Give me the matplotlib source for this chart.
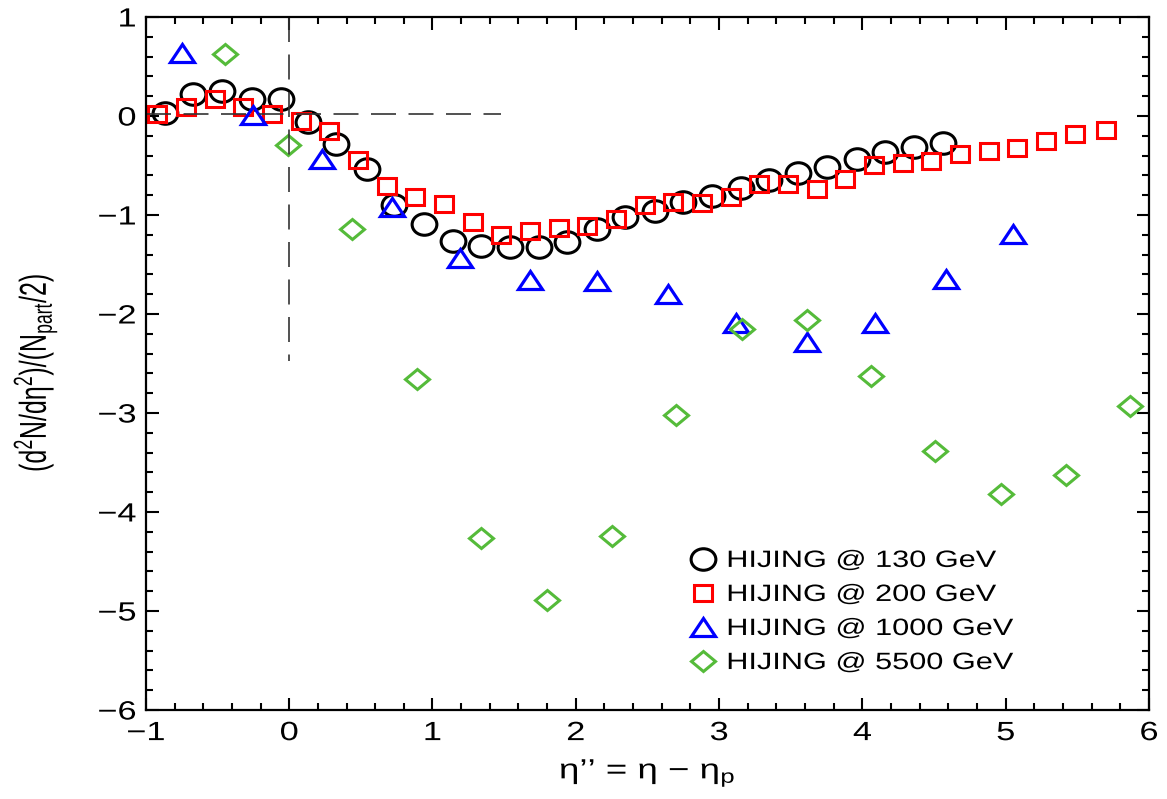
import numpy as np
import matplotlib
matplotlib.use("Agg")
import matplotlib.pyplot as plt
from matplotlib.markers import MarkerStyle
from matplotlib.transforms import Affine2D
from matplotlib.patheffects import AbstractPathEffect

plt.rcParams['font.family'] = ['Liberation Sans', 'DejaVu Sans']
plt.rcParams['mathtext.fontset'] = 'custom'
plt.rcParams['mathtext.rm'] = 'Liberation Sans'
plt.rcParams['mathtext.it'] = 'Liberation Sans:italic'

# HIJING @ 130 GeV
x_130 = [-0.87, -0.67, -0.47, -0.26, -0.06, 0.13, 0.33, 0.54, 0.73, 0.94,
         1.14, 1.34, 1.54, 1.74, 1.94, 2.15, 2.34, 2.55, 2.75, 2.95,
         3.15, 3.35, 3.55, 3.75, 3.96, 4.16, 4.36, 4.56]
y_130 = [0.03, 0.22, 0.25, 0.17, 0.17, -0.06, -0.28, -0.54, -0.90, -1.09,
         -1.26, -1.31, -1.32, -1.32, -1.27, -1.14, -1.02, -0.96, -0.87, -0.81,
         -0.73, -0.65, -0.58, -0.51, -0.43, -0.36, -0.31, -0.27]

# HIJING @ 200 GeV
x_200 = [-0.92, -0.72, -0.52, -0.32, -0.12, 0.08, 0.28, 0.48, 0.68, 0.88,
         1.08, 1.28, 1.48, 1.68, 1.88, 2.08, 2.28, 2.48, 2.68, 2.88,
         3.08, 3.28, 3.48, 3.68, 3.88, 4.08, 4.28, 4.48, 4.68, 4.88,
         5.08, 5.28, 5.48, 5.70]
y_200 = [0.02, 0.09, 0.17, 0.09, 0.02, -0.05, -0.15, -0.44, -0.71, -0.82,
         -0.89, -1.07, -1.20, -1.16, -1.13, -1.11, -1.04, -0.90, -0.87, -0.88,
         -0.82, -0.69, -0.69, -0.74, -0.64, -0.49, -0.47, -0.45, -0.38, -0.35,
         -0.32, -0.25, -0.18, -0.14]

# HIJING @ 1000 GeV
x_1000 = [-0.75, -0.25, 0.23, 0.72, 1.19, 1.68, 2.15, 2.64, 3.12, 3.61, 4.09, 4.58, 5.05]
y_1000 = [0.64, 0.01, -0.43, -0.92, -1.43, -1.66, -1.67, -1.80, -2.09, -2.28, -2.09, -1.65, -1.19]

# HIJING @ 5500 GeV
x_5500 = [-0.45, -0.01, 0.44, 0.89, 1.34, 1.80, 2.25, 2.70, 3.16, 3.61, 4.06, 4.51, 4.97, 5.42, 5.87]
y_5500 = [0.63, -0.29, -1.14, -2.66, -4.26, -4.89, -4.24, -3.02, -2.15, -2.06, -2.63, -3.38, -3.82, -3.63, -2.93]

labels = ['HIJING @ 130 GeV', 'HIJING @ 200 GeV', 'HIJING @ 1000 GeV', 'HIJING @ 5500 GeV']


class Stretch(AbstractPathEffect):
    """Scale glyph outlines in the text's own frame (ax = anchor fraction along x)."""

    def __init__(self, sx=1.0, sy=1.0, ax=0.5):
        super().__init__()
        self.sx, self.sy, self.ax = sx, sy, ax

    def draw_path(self, renderer, gc, tpath, affine, rgbFace=None):
        ext = tpath.get_extents()
        cx = ext.x0 + self.ax * (ext.x1 - ext.x0)
        cy = 0.5 * (ext.y0 + ext.y1)
        t = Affine2D().translate(-cx, -cy).scale(self.sx, self.sy).translate(cx, cy)
        renderer.draw_path(gc, tpath, t + affine, rgbFace)


def wide(m, sx):
    return MarkerStyle(m, transform=Affine2D().scale(sx, 1.0))


fig = plt.figure(figsize=(11.67, 7.99), dpi=100)
ax = fig.add_axes([0.125, 0.1114, 0.8596, 0.8673])

ax.plot(x_130, y_130, ls='none', marker=wide('o', 1.15), ms=15.5, mfc='none',
        mec='black', mew=2.2, label=labels[0])
ax.plot(x_200, y_200, ls='none', marker=wide('s', 1.2), ms=11, mfc='none',
        mec='#ff0000', mew=2.2, label=labels[1])
ax.plot(x_1000, y_1000, ls='none', marker=wide('^', 1.3), ms=13, mfc='none',
        mec='#0000ff', mew=2.3, label=labels[2])
ax.plot(x_5500, y_5500, ls='none', marker=wide('D', 1.25), ms=9.7, mfc='none',
        mec='#55bb3a', mew=2.2, label=labels[3])

# dashed guide lines through the origin
ax.plot([0, 0], [1, -2.47], ls=(0, (15, 7.5)), color='#333333', lw=1.2)
ax.plot([-1, 1.48], [0.02, 0.02], ls=(0, (15, 7.5)), color='#333333', lw=1.2)

ax.set_xlim(-1, 6)
ax.set_ylim(-6, 1)
ax.set_xticks(range(-1, 7))
ax.set_yticks(range(-6, 2))
ax.set_xticklabels(['\u22121', '0', '1', '2', '3', '4', '5', '6'])
ax.set_yticklabels(['\u22126', '\u22125', '\u22124', '\u22123', '\u22122', '\u22121', '0', '1'])
ax.xaxis.set_minor_locator(matplotlib.ticker.MultipleLocator(0.2))
ax.yaxis.set_minor_locator(matplotlib.ticker.MultipleLocator(0.2))
ax.tick_params(which='both', direction='in', top=True, right=True, width=1.5,
               labelsize=19)
ax.tick_params(axis='x', pad=8)
ax.tick_params(axis='y', pad=7)
ax.tick_params(which='major', length=9)
ax.tick_params(which='minor', length=5)
for s in ax.spines.values():
    s.set_linewidth(1.6)

for t in ax.xaxis.get_major_ticks():
    t.label1.set_path_effects([Stretch(sx=1.3, ax=0.5)])
for t in ax.yaxis.get_major_ticks():
    t.label1.set_path_effects([Stretch(sx=1.3, ax=1.0)])

xl = ax.set_xlabel('\u03b7\u2019\u2019 = \u03b7 \u2212 \u03b7$_{\\mathregular{p}}$', fontsize=20, labelpad=9)
xl.set_path_effects([Stretch(sx=1.32)])
yl = ax.set_ylabel('(d$^{\\mathregular{2}}$N/d\u03b7$^{\\mathregular{2}}$)/(N$_{\\mathregular{part}}$/2)',
                   fontsize=18)
yl.set_path_effects([Stretch(sy=1.5)])
ax.yaxis.set_label_coords(-0.094, 0.487)

leg = ax.legend(loc='upper left', bbox_to_anchor=(0.545, 0.231), frameon=False,
                fontsize=17, handlelength=0.9, handletextpad=0.55, labelspacing=0.51,
                borderpad=0, borderaxespad=0)
for txt in leg.get_texts():
    txt.set_path_effects([Stretch(sx=1.3, ax=0.0)])

fig.savefig('out.png', dpi=100)
